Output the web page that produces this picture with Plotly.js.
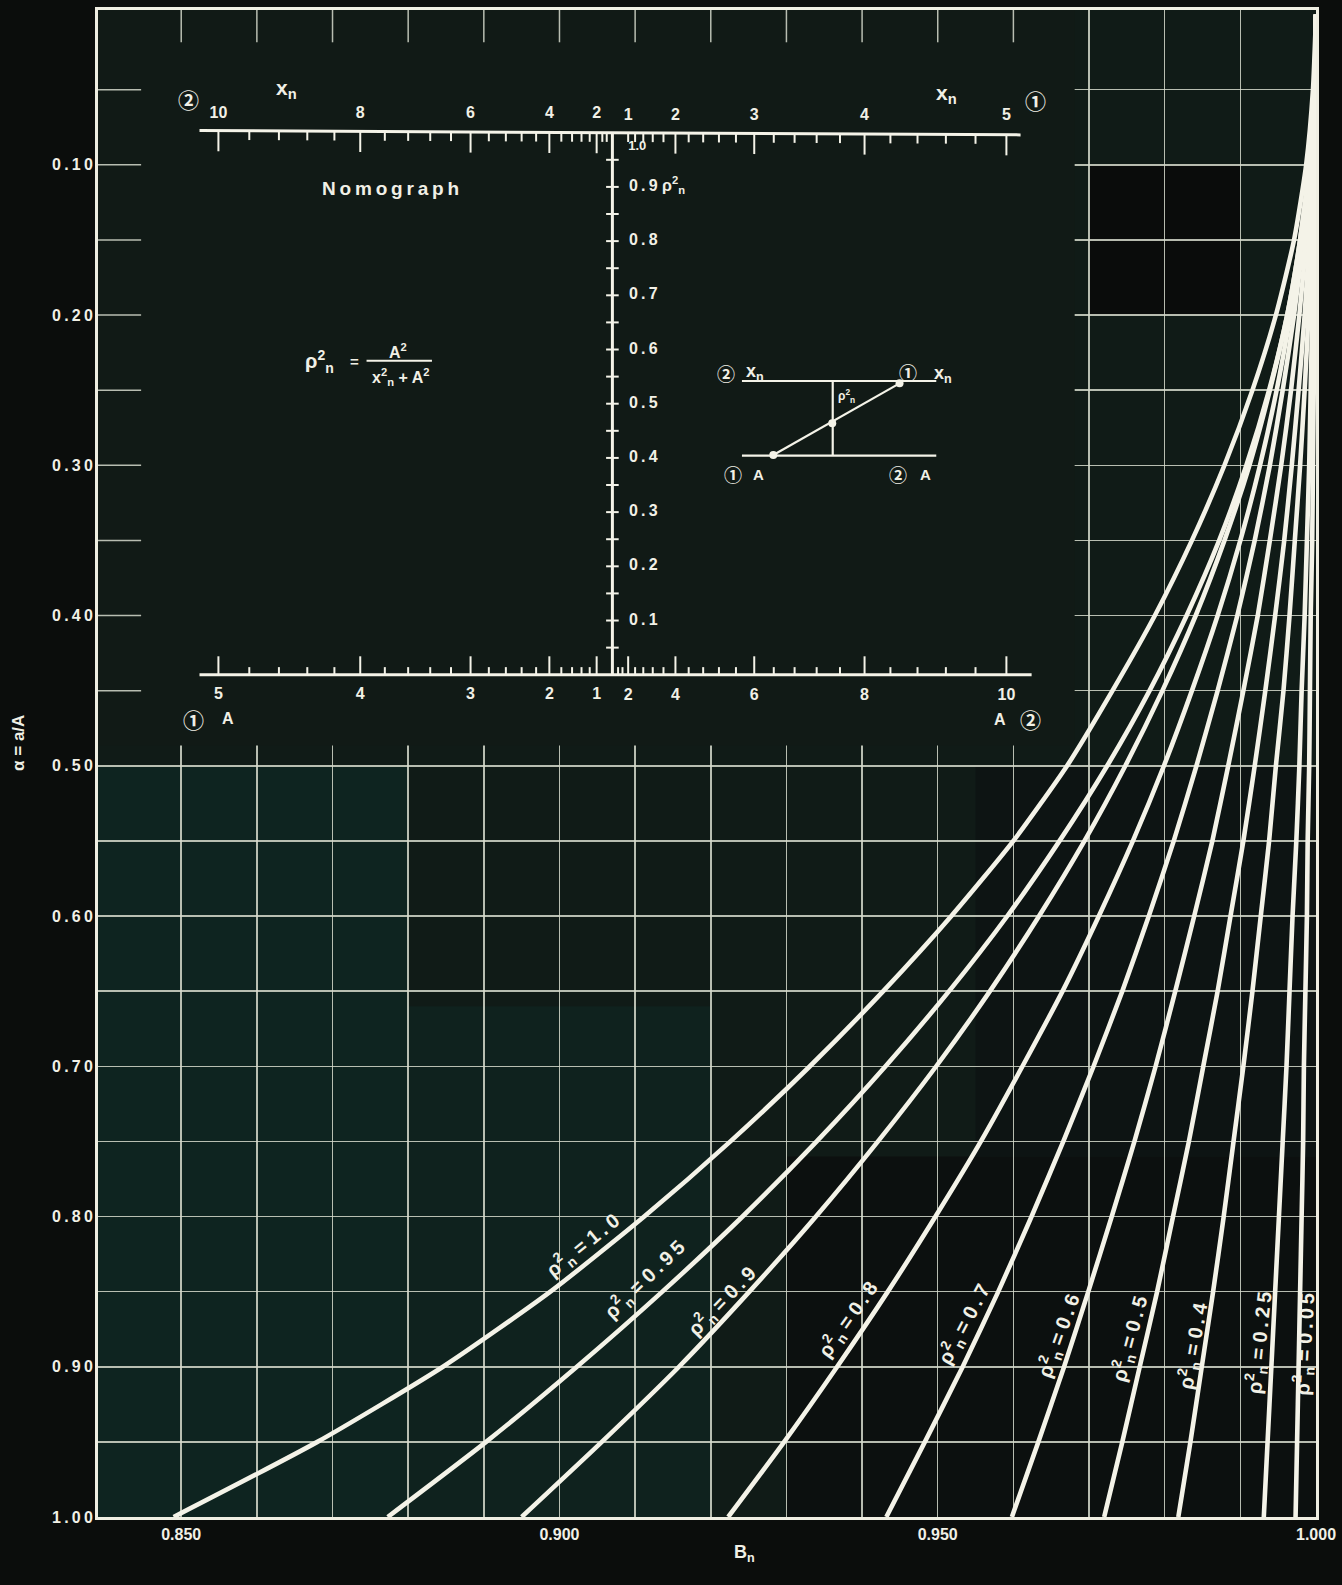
<!DOCTYPE html>
<html>
<head>
<meta charset="utf-8">
<script src="https://cdn.plot.ly/plotly-3.0.1.min.js"></script>
<style>
html,body{margin:0;padding:0;background:#0b0d0c;}
#chart{width:1342px;height:1585px;}
</style>
</head>
<body>
<div id="chart"></div>
<script>
// ---------------- DATA ----------------
// alpha = a/A (vertical axis, top = 0, bottom = 1)
const ALPHA = [1.00,0.95,0.90,0.85,0.80,0.75,0.70,0.65,0.60,0.55,0.50,0.45,0.40,0.35,0.30,0.25,0.20,0.15,0.10,0.05,0.00];

// B_n for each curve rho_n^2
const BN_RHO_100 = [0.8490,0.8680,0.8846,0.8988,0.9112,0.9226,0.9331,0.9428,0.9518,0.9600,0.9671,0.9731,0.9787,0.9836,0.9879,0.9916,0.9947,0.9971,0.9987,0.9996,1.0000];
const BN_RHO_095 = [0.8773,0.8903,0.9023,0.9136,0.9242,0.9340,0.9431,0.9515,0.9592,0.9661,0.9724,0.9780,0.9829,0.9872,0.9908,0.9938,0.9962,0.9979,0.9991,0.9998,1.0000];
const BN_RHO_090 = [0.8950,0.9056,0.9158,0.9251,0.9339,0.9421,0.9498,0.9569,0.9634,0.9694,0.9748,0.9797,0.9841,0.9879,0.9912,0.9939,0.9962,0.9979,0.9991,0.9998,1.0000];
const BN_RHO_080 = [0.9223,0.9297,0.9367,0.9434,0.9497,0.9557,0.9612,0.9665,0.9713,0.9758,0.9799,0.9836,0.9870,0.9900,0.9926,0.9948,0.9966,0.9981,0.9991,0.9998,1.0000];
const BN_RHO_070 = [0.9432,0.9483,0.9533,0.9580,0.9624,0.9666,0.9706,0.9744,0.9779,0.9812,0.9842,0.9870,0.9896,0.9919,0.9939,0.9956,0.9971,0.9983,0.9992,0.9998,1.0000];
const BN_RHO_060 = [0.9598,0.9633,0.9667,0.9699,0.9730,0.9760,0.9788,0.9814,0.9839,0.9863,0.9884,0.9904,0.9923,0.9939,0.9954,0.9967,0.9978,0.9987,0.9994,0.9998,1.0000];
const BN_RHO_050 = [0.9720,0.9744,0.9767,0.9790,0.9811,0.9832,0.9851,0.9870,0.9887,0.9904,0.9919,0.9933,0.9946,0.9958,0.9968,0.9977,0.9985,0.9991,0.9995,0.9999,1.0000];
const BN_RHO_040 = [0.9818,0.9834,0.9849,0.9864,0.9878,0.9891,0.9904,0.9916,0.9927,0.9938,0.9947,0.9957,0.9965,0.9972,0.9979,0.9985,0.9990,0.9994,0.9997,0.9999,1.0000];
const BN_RHO_025 = [0.9931,0.9936,0.9941,0.9946,0.9951,0.9956,0.9961,0.9965,0.9969,0.9974,0.9978,0.9981,0.9985,0.9988,0.9991,0.9993,0.9995,0.9997,0.9999,1.0000,1.0000];
const BN_RHO_005 = [0.9973,0.9975,0.9977,0.9979,0.9981,0.9983,0.9984,0.9986,0.9988,0.9989,0.9991,0.9992,0.9993,0.9995,0.9996,0.9997,0.9998,0.9999,0.9999,1.0000,1.0000];

const RHO_SQ_LABELS = ['1.0','0.95','0.9','0.8','0.7','0.6','0.5','0.4','0.25','0.05'];

// main axes ticks
const X_MAJOR = [0.85,0.90,0.95,1.00];
const X_MAJOR_TEXT = ['0.850','0.900','0.950','1.000'];
const X_MINOR = [0.86,0.87,0.88,0.89,0.91,0.92,0.93,0.94,0.96,0.97,0.98,0.99];
const Y_MAJOR = [0.10,0.20,0.30,0.40,0.50,0.60,0.70,0.80,0.90,1.00];
const Y_MAJOR_TEXT = ['0.10','0.20','0.30','0.40','0.50','0.60','0.70','0.80','0.90','1.00'];
const Y_MINOR = [0.05,0.15,0.25,0.35,0.45,0.55,0.65,0.75,0.85,0.95];

// nomograph scale labels
const XN_SCALE1_LABELS = [1,2,3,4,5];      // x_n, scale (1), top right
const XN_SCALE2_LABELS = [10,8,6,4,2];     // x_n, scale (2), top left
const A_SCALE1_LABELS  = [5,4,3,2,1];      // A, scale (1), bottom left
const A_SCALE2_LABELS  = [2,4,6,8,10];     // A, scale (2), bottom right
const RHO_SCALE_LABELS = [1.0,0.9,0.8,0.7,0.6,0.5,0.4,0.3,0.2,0.1];

// ---------------- STYLE / LAYOUT CONSTANTS ----------------
const FONT = 'Liberation Sans, Arial, DejaVu Sans, sans-serif';
const CIRC_FONT = 'Noto Sans CJK JP, DejaVu Sans, sans-serif';
const TXT = '#f1f0e6';
const CURVE = '#f4f3e8';
const GRID = 'rgba(214,218,204,0.85)';
const PLOT_BG = '#101b17';
const THIN = '\u2009';
const spaced = t => t.split('').join(THIN);   // wide letter spacing of the original lettering

// nomograph coordinate frame (u: horizontal units of x^2, v: rho^2)
const U_RANGE = [-32.64, 44.645];
const V_RANGE = [-1.554, 1.2264];

// curve label placement (Bn, alpha, angle)
const LABEL_POS = [
  [0.90300,0.8190,-39],[0.91120,0.8416,-44],[0.92140,0.8563,-46],[0.93810,0.8683,-55],
  [0.95340,0.8716,-62],[0.96590,0.8796,-70],[0.97530,0.8816,-75],[0.98370,0.8862,-80],
  [0.99245,0.8842,-84],[0.99845,0.8849,-87]
];

const SERIES = [BN_RHO_100,BN_RHO_095,BN_RHO_090,BN_RHO_080,BN_RHO_070,BN_RHO_060,BN_RHO_050,BN_RHO_040,BN_RHO_025,BN_RHO_005];

// ---------------- TRACES ----------------
const traces = SERIES.map((bn,i) => ({
  type:'scatter', mode:'lines', x:bn, y:ALPHA, name:'ρ²=' + RHO_SQ_LABELS[i],
  line:{color:CURVE, width:4.6, shape:'spline', smoothing:0.6},
  hoverinfo:'skip', showlegend:false, xaxis:'x', yaxis:'y'
}));

// nomograph scale mappings
const uX1 = x => x*x;
const uX2 = x => -x*x/4;
const uA1 = a => -a*a;
const uA2 = a => a*a/4;
function seq(a,b,step){const o=[];for(let k=0;a+k*step<=b+1e-9;k++)o.push(Math.round((a+k*step)*100)/100);return o;}
const isInt = v => Math.abs(v-Math.round(v))<1e-6;
const isEven = v => isInt(v) && Math.round(v)%2===0;

// scale lines
const nx=[], ny=[];
function seg(x0,y0,x1,y1){nx.push(x0,x1,null);ny.push(y0,y1,null);}
seg(-26.2,1.004,25.9,0.996);   // top x_n scale
seg(-26.2,0,26.6,0);           // bottom A scale
seg(0,0,0,1);                  // rho^2 scale
traces.push({type:'scatter',mode:'lines',x:nx,y:ny,xaxis:'x2',yaxis:'y2',
  line:{color:CURVE,width:3},hoverinfo:'skip',showlegend:false});

// ticks
const tx=[], ty=[];
function tk(x0,y0,x1,y1){tx.push(x0,x1,null);ty.push(y0,y1,null);}
const topV = u => 1.0 - u*0.00015;
seq(1,5,0.2).forEach(x=>{const u=uX1(x);tk(u,topV(u),u,topV(u)-(isInt(x)&&x>1?0.038:0.017));});
seq(1.2,10,0.4).forEach(x=>{const u=uX2(x);tk(u,topV(u),u,topV(u)-(isEven(x)?0.038:0.017));});
seq(1,5,0.2).forEach(a=>tk(uA1(a),0,uA1(a),(isInt(a)?0.034:0.014)));
seq(1.2,10,0.4).forEach(a=>tk(uA2(a),0,uA2(a),(isEven(a)?0.034:0.014)));
seq(0.05,0.95,0.05).forEach(r=>tk(-0.4,r,0.4,r));
traces.push({type:'scatter',mode:'lines',x:tx,y:ty,xaxis:'x2',yaxis:'y2',
  line:{color:CURVE,width:2},hoverinfo:'skip',showlegend:false});

// scale numbers drawn as text traces on the nomograph frame
const FNT = size => ({family:FONT,size:size,color:TXT,weight:'bold'});
function textTrace(xs,ys,texts,size,pos){
  return {type:'scatter',mode:'text',x:xs,y:ys,text:texts,textposition:pos||'middle center',
    textfont:FNT(size),xaxis:'x2',yaxis:'y2',hoverinfo:'skip',showlegend:false,cliponaxis:false};
}
traces.push(textTrace(XN_SCALE2_LABELS.map(uX2),XN_SCALE2_LABELS.map(()=>1.035),XN_SCALE2_LABELS.map(String),16));
traces.push(textTrace(XN_SCALE1_LABELS.map(uX1),XN_SCALE1_LABELS.map(()=>1.031),XN_SCALE1_LABELS.map(String),16));
traces.push(textTrace(A_SCALE1_LABELS.map(uA1),A_SCALE1_LABELS.map(()=>-0.037),A_SCALE1_LABELS.map(String),16));
traces.push(textTrace(A_SCALE2_LABELS.map(uA2),A_SCALE2_LABELS.map(()=>-0.039),A_SCALE2_LABELS.map(String),16));
const RHO = 'ρ<sup>2</sup><sub>n</sub>';
const rhoMain = RHO_SCALE_LABELS.filter(r=>r<1);
traces.push(textTrace(rhoMain.map(()=>1.05),rhoMain,
  rhoMain.map(r=>spaced(r.toFixed(1))+(Math.abs(r-0.9)<1e-9?' '+RHO:'')),16,'middle right'));
traces.push(textTrace([1.0],[0.974],[RHO_SCALE_LABELS[0].toFixed(1)],13,'middle right'));

// small explanatory diagram (schematic, in nomograph frame)
const DG = {u0:8.22,u1:20.55,vTop:0.5419,vBot:0.4041,uMid:13.98,pA:[10.21,0.4054],pX:[18.22,0.5376],pR:[13.95,0.4638]};
traces.push({type:'scatter',mode:'lines',xaxis:'x2',yaxis:'y2',hoverinfo:'skip',showlegend:false,
  x:[DG.u0,DG.u1,null,DG.u0,DG.u1,null,DG.uMid,DG.uMid,null,DG.pA[0],DG.pX[0]],
  y:[DG.vTop,DG.vTop,null,DG.vBot,DG.vBot,null,DG.vBot,DG.vTop,null,DG.pA[1],DG.pX[1]],
  line:{color:CURVE,width:2.2}});
traces.push({type:'scatter',mode:'markers',xaxis:'x2',yaxis:'y2',hoverinfo:'skip',showlegend:false,
  x:[DG.pA[0],DG.pR[0],DG.pX[0]],y:[DG.pA[1],DG.pR[1],DG.pX[1]],
  marker:{color:CURVE,size:8}});

// ---------------- ANNOTATIONS ----------------
const ann = [];
RHO_SQ_LABELS.forEach((lab,i)=>{
  const p = LABEL_POS[i];
  ann.push({xref:'x',yref:'y',x:p[0],y:p[1],text:RHO+' = '+spaced(lab),textangle:p[2],showarrow:false,
    font:{family:FONT,size:20,color:TXT,weight:'bold'}});
});
// axis titles
ann.push({xref:'paper',yref:'paper',x:0.531,y:-0.0239,xanchor:'center',yanchor:'middle',text:'B<sub>n</sub>',showarrow:false,
  font:{family:FONT,size:18,color:TXT,weight:'bold'}});
ann.push({xref:'paper',yref:'paper',x:-0.0655,y:0.5138,xanchor:'center',yanchor:'middle',text:'α = a/A',textangle:-90,showarrow:false,
  font:{family:FONT,size:17,color:TXT,weight:'bold'}});

const F = (size,extra) => Object.assign({family:FONT,size:size,color:TXT,weight:'bold'},extra||{});
const FC = size => ({family:CIRC_FONT,size:size,color:TXT,weight:'bold'});
function na(u,v,text,o){ann.push(Object.assign({xref:'x2',yref:'y2',x:u,y:v,text:text,showarrow:false,
  xanchor:'center',yanchor:'middle',font:F(16)},o||{}));}
// scale names
na(-20.71,1.080,'x<sub>n</sub>',{font:F(21)});
na(21.23,1.071,'x<sub>n</sub>',{font:F(21)});
na(-26.92,1.062,'②',{font:FC(21)});
na(26.87,1.060,'①',{font:FC(21)});
na(-26.6,-0.081,'①',{font:FC(21)});
na(-24.4,-0.081,'A',{font:F(16)});
na(24.6,-0.082,'A',{font:F(16)});
na(26.56,-0.082,'②',{font:FC(21)});
// title and formula
na(-14.05,0.898,spaced('Nomograph'),{font:F(19)});
na(-18.6,0.5780,'ρ<sup>2</sup><sub>n</sub>',{font:F(20)});
na(-16.35,0.577,'=',{font:F(15)});
na(-13.6,0.5975,'A<sup>2</sup>',{font:F(16)});
na(-13.45,0.549,'x<sup>2</sup><sub>n</sub> + A<sup>2</sup>',{font:F(16)});
// diagram labels
na(14.85,0.5142,RHO,{font:F(12)});
na(7.23,0.5561,'②',{font:FC(18)});
na(9.05,0.5585,'x<sub>n</sub>',{font:F(18)});
na(18.75,0.559,'①',{font:FC(18)});
na(21.0,0.553,'x<sub>n</sub>',{font:F(18)});
na(7.65,0.370,'①',{font:FC(18)});
na(9.28,0.370,'A',{font:F(15)});
na(18.12,0.370,'②',{font:FC(18)});
na(19.84,0.370,'A',{font:F(15)});

// ---------------- SHAPES ----------------
const shapes = [];
// photographic tonal patches of the printed page (below the grid)
const PATCHES = [
  [0.839,0.880,0.50,1.00,'#0e2420'],
  [0.880,0.920,0.66,1.00,'#0f221e'],
  [0.930,1.000,0.76,1.00,'#0c100f'],
  [0.955,1.000,0.50,0.76,'#0d1413'],
  [0.970,0.990,0.10,0.20,'#0a0c0b']
];
PATCHES.forEach(p=>shapes.push({type:'rect',layer:'below',xref:'x',yref:'y',x0:p[0],x1:p[1],y0:p[2],y1:p[3],
  fillcolor:p[4],line:{width:0}}));
// inset panel covering the grid
shapes.push({type:'rect',layer:'between',xref:'x',yref:'y',x0:0.839,x1:0.9681,y0:-0.003,y1:0.4865,
  fillcolor:'#111a16',line:{width:0}});
// grid stubs left visible along the panel's top and left edges
X_MAJOR.concat(X_MINOR).filter(v=>v<0.9681).forEach(v=>shapes.push({type:'line',layer:'between',xref:'x',yref:'y',
  x0:v,x1:v,y0:-0.003,y1:0.0185,line:{color:GRID,width:1.5}}));
Y_MAJOR.concat(Y_MINOR).filter(v=>v<0.4865).forEach(v=>shapes.push({type:'line',layer:'between',xref:'x',yref:'y',
  x0:0.839,x1:0.8447,y0:v,y1:v,line:{color:GRID,width:1.5}}));
// formula fraction bar
shapes.push({type:'line',xref:'x2',yref:'y2',x0:-15.6,x1:-11.45,y0:0.5793,y1:0.5793,line:{color:CURVE,width:2}});

// ---------------- LAYOUT ----------------
const gridMinor = vals => ({tickmode:'array',tickvals:vals,showgrid:true,gridcolor:GRID,gridwidth:1.5,ticks:''});
const layout = {
  width:1342, height:1585,
  margin:{l:98,r:26,t:10,b:68,pad:0},
  paper_bgcolor:'#0b0d0c', plot_bgcolor:PLOT_BG,
  showlegend:false,
  font:{family:FONT,color:TXT},
  xaxis:{range:[0.839,1.0],tickmode:'array',tickvals:X_MAJOR,ticktext:X_MAJOR_TEXT,
    showgrid:true,gridcolor:GRID,gridwidth:1.5,zeroline:false,ticks:'',minor:gridMinor(X_MINOR),
    showline:true,mirror:true,linecolor:'#efeee2',linewidth:3,
    tickfont:{family:FONT,size:16,color:TXT,weight:'bold'},ticklabelstandoff:1,fixedrange:true},
  yaxis:{range:[1.0,-0.003],tickmode:'array',tickvals:Y_MAJOR,ticktext:Y_MAJOR_TEXT.map(spaced),
    showgrid:true,gridcolor:GRID,gridwidth:1.5,zeroline:false,ticks:'',minor:gridMinor(Y_MINOR),
    showline:true,mirror:true,linecolor:'#efeee2',linewidth:3,
    tickfont:{family:FONT,size:16,color:TXT,weight:'bold'},ticklabelstandoff:-1,fixedrange:true},
  xaxis2:{overlaying:'x',anchor:'y2',range:U_RANGE,visible:false,fixedrange:true},
  yaxis2:{overlaying:'y',anchor:'x2',range:V_RANGE,visible:false,fixedrange:true},
  annotations:ann,
  shapes:shapes
};

Plotly.newPlot('chart',traces,layout,{staticPlot:true,displayModeBar:false});
</script>
</body>
</html>
